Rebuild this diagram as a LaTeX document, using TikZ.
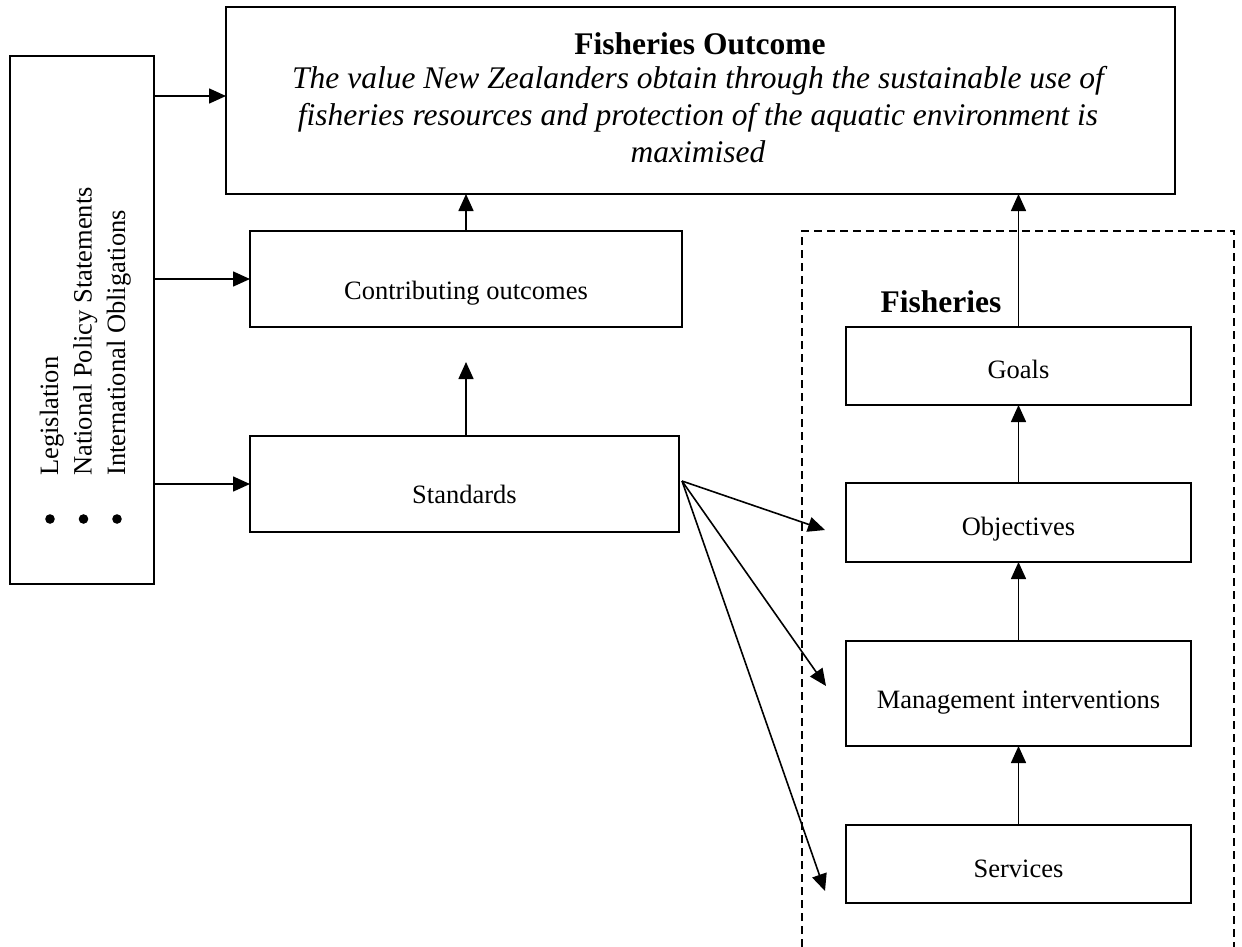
\documentclass[tikz,border=0pt]{standalone}
\usepackage{fontspec}
\setmainfont{Liberation Serif}
\usetikzlibrary{arrows.meta}
\tikzset{
  boxnode/.style={draw, line width=2pt, inner sep=0pt, outer sep=0pt},
  lbl/.style={inner sep=0pt, anchor=base, font=\fontsize{26.5}{30}\selectfont},
  big/.style={inner sep=0pt, anchor=base, font=\fontsize{31.5}{36}\selectfont},
  sidetxt/.style={inner sep=0pt, anchor=base west, rotate=90, font=\fontsize{26.5}{30}\selectfont},
  arr/.style={line width=1.6pt, -{Triangle[length=17pt,width=15pt]}},
  dashbox/.style={line width=1.5pt, dash pattern=on 8pt off 5pt}
}
\begin{document}
\begin{tikzpicture}[x=1pt,y=-1pt]
\useasboundingbox[fill=white] (0,0) rectangle (1242,946);

% boxes
\node[boxnode, minimum width=144pt, minimum height=528pt] (lg) at (82,320) {};
\node[boxnode, minimum width=949pt, minimum height=187pt] (out) at (700.5,100.5) {};
\node[boxnode, minimum width=432pt, minimum height=96pt] (co) at (466,279) {};
\node[boxnode, minimum width=429pt, minimum height=96pt] (st) at (464.5,484) {};
\node[boxnode, minimum width=345pt, minimum height=78pt] (go) at (1018.5,366) {};
\node[boxnode, minimum width=345pt, minimum height=79pt] (ob) at (1018.5,522.5) {};
\node[boxnode, minimum width=345pt, minimum height=105pt] (mi) at (1018.5,693.5) {};
\node[boxnode, minimum width=345pt, minimum height=78pt] (sv) at (1018.5,864) {};

% dashed group
\draw[dashbox] (802,960) -- (802,231) -- (1234,231) -- (1234,960);

% texts
\node[big, font=\fontsize{31.5}{36}\selectfont\bfseries] (ttl) at (700,54) {Fisheries Outcome};
\node[big, font=\fontsize{31.5}{36}\selectfont\itshape] (it1) at (698,88) {The value New Zealanders obtain through the sustainable use of};
\node[big, font=\fontsize{31.5}{36}\selectfont\itshape] (it2) at (698,125) {fisheries resources and protection of the aquatic environment is};
\node[big, font=\fontsize{31.5}{36}\selectfont\itshape] (it3) at (698,162) {maximised};
\node[lbl] (cot) at (466,299) {Contributing outcomes};
\node[lbl] (stt) at (464.5,503) {Standards};
\node[big, font=\fontsize{31.5}{36}\selectfont\bfseries] (fis) at (941,312) {Fisheries};
\node[lbl] (got) at (1018.5,378) {Goals};
\node[lbl] (obt) at (1018.5,535) {Objectives};
\node[lbl] (mit) at (1018.5,708) {Management interventions};
\node[lbl] (svt) at (1018.5,877) {Services};

\node[sidetxt] (l1) at (58,476) {Legislation};
\node[sidetxt] (l2) at (91.5,476) {National Policy Statements};
\node[sidetxt] (l3) at (125,476) {International Obligations};
\fill (50,519) circle (4.8pt);
\fill (83.5,519) circle (4.8pt);
\fill (117,519) circle (4.8pt);

% arrows from left box
\draw[arr] (lg.east |- 0,96) -- (out.west |- 0,96);
\draw[arr] (lg.east |- co.west) -- (co.west);
\draw[arr] (lg.east |- st.west) -- (st.west);

% vertical arrows
\draw[arr] (co.north) -- (co.north |- out.south);
\coordinate (sttip) at (466,362);
\draw[arr] (sttip |- st.north) -- (sttip);
\draw[arr] (go.north) -- (go.north |- out.south);
\draw[arr] (ob.north) -- (go.south);
\draw[arr] (mi.north) -- (ob.south);
\draw[arr] (sv.north) -- (mi.south);

% fan from standards
\coordinate (fs) at (682,481);
\coordinate (e1) at (825,530);
\coordinate (e2) at (826,686);
\coordinate (e3) at (825,891);
\draw[arr] (fs) -- (e1);
\draw[arr] (fs) -- (e2);
\draw[arr] (fs) -- (e3);
\end{tikzpicture}
\end{document}
